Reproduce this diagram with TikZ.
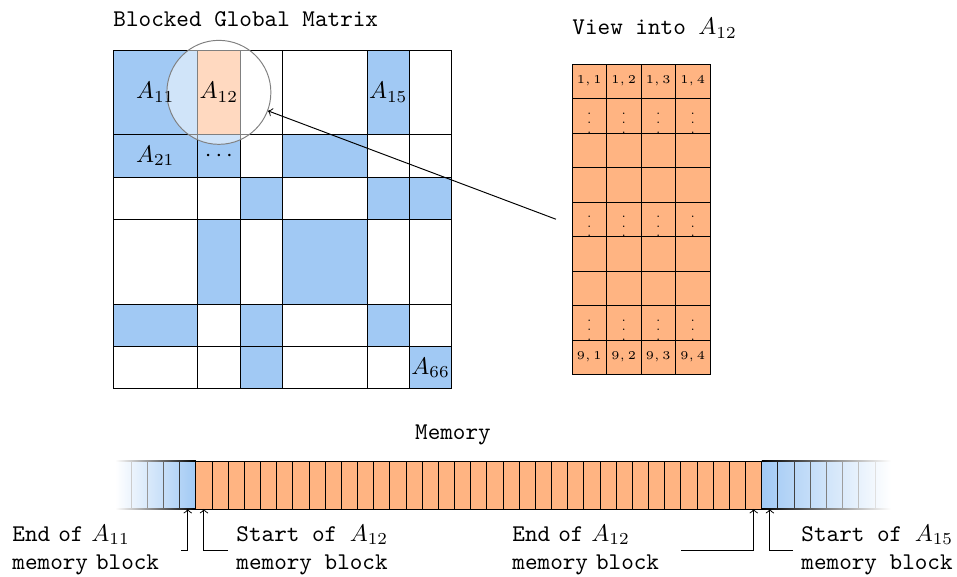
\documentclass[tikz,border=0pt]{standalone}
\usetikzlibrary{calc}
\newdimen\pxu
\pxu=0.41667pt
\definecolor{cb}{HTML}{A1C9F4}
\definecolor{co}{HTML}{FFB482}
\definecolor{cw}{HTML}{FFFFFF}
\tikzset{
  vcell/.style={draw=black, fill=co, minimum width=34.5\pxu, minimum height=34.5\pxu,
    inner sep=0pt, outer sep=0pt, font=\tiny},
  mcell/.style={minimum width=16.17\pxu, minimum height=48\pxu, inner sep=0pt, outer sep=0pt},
  heading/.style={font=\ttfamily, inner sep=0pt},
  memlabel/.style={font=\ttfamily, align=left, inner sep=3.333pt},
  endlabel/.style={memlabel, text width=66.7pt},
  pointer/.style={->, line width=0.4pt},
  lensstyle/.style={circle, draw=gray, fill=white, fill opacity=0.5, minimum size=104\pxu, inner sep=0pt},
}
% block boundaries of the global matrix (block sizes 2,1,1,2,1,1)
\def\XB{{113,197.7,240.05,282.4,367.1,409.45,451.8}}
\def\YB{{50,134.7,177.05,219.4,304.1,346.45,388.8}}
\newcommand\matrow[2]{%
  \foreach \col [count=\c] in {#2} {
    \pgfmathsetmacro\xa{\XB[\c-1]}
    \pgfmathsetmacro\xb{\XB[\c]}
    \pgfmathsetmacro\ya{\YB[#1-1]}
    \pgfmathsetmacro\yb{\YB[#1]}
    \filldraw[fill=\col, draw=black, line width=0.4pt] (\xa,\ya) rectangle (\xb,\yb);
    \coordinate (g-#1-\c) at ({(\xa+\xb)/2},{(\ya+\yb)/2});
  }}
\begin{document}
\begin{tikzpicture}[x=0.41667pt, y=-0.41667pt]
\useasboundingbox (0,0) rectangle (957,577);

% ---- blocked global matrix
\matrow{1}{cb,co,cw,cw,cb,cw}
\matrow{2}{cb,cb,cw,cb,cw,cw}
\matrow{3}{cw,cw,cb,cw,cb,cb}
\matrow{4}{cw,cb,cw,cb,cw,cw}
\matrow{5}{cb,cw,cb,cw,cb,cw}
\matrow{6}{cw,cw,cb,cw,cw,cb}

\node[lensstyle] (lens) at (g-1-2) {};

\node (a11) at (g-1-1) {$A_{11}$};
\node (a12) at (g-1-2) {$A_{12}$};
\node (a15) at (g-1-5) {$A_{15}$};
\node (a21) at (g-2-1) {$A_{21}$};
\node (a22) at (g-2-2) {$\cdots$};
\node (a66) at (g-6-6) {$A_{66}$};

\node[heading, anchor=base west] (title) at (113,27) {Blocked Global Matrix};

% ---- view into one block
\node[heading, anchor=base west] (vtitle) at (572,35) {View into $A_{12}$};
\foreach \r in {1,...,9}
  \foreach \c in {1,...,4}
    \node[vcell] (v-\r-\c) at ({572+34.5*(\c-0.5)},{64+34.5*(\r-0.5)}) {};
\foreach \c in {1,...,4} {
  \node[font=\tiny, inner sep=0pt] at (v-1-\c) {$1,\c$};
  \node[font=\tiny, inner sep=0pt] at (v-9-\c) {$9,\c$};
  \foreach \r in {2,5,8}
    \node[font=\tiny, inner sep=0pt] at (v-\r-\c) {$\vdots$};
}
\coordinate (vfrom) at ($(v-5-1.west)+(-16,0)$);
\draw[pointer] (vfrom) -- (lens);

% ---- linear memory
\node[heading, anchor=base] (memtitle) at (453,440) {Memory};
\shade[left color=white, right color=cb] (115,461) rectangle (195.85,509);
\shade[left color=cb, right color=white] (761.8,461) rectangle (891,509);
\foreach \i in {0,...,4,40,41,...,47}
  \node[mcell] (m\i) at ({115+16.17*(\i+0.5)},485) {};
\foreach \i in {5,...,39}
  \node[mcell, fill=co, draw=black] (m\i) at ({115+16.17*(\i+0.5)},485) {};
% fading cell borders at both ends
\foreach \i/\p in {1/20,2/40,3/60,4/80}
  \draw[black!\p] ({115+16.17*\i},461) -- ({115+16.17*\i},509);
\foreach \i/\p in {41/88,42/75,43/62,44/50,45/38,46/25,47/12}
  \draw[black!\p] ({115+16.17*\i},461) -- ({115+16.17*\i},509);
\shade[left color=white, right color=black] (115,460.5) rectangle (195.85,461.5);
\shade[left color=white, right color=black] (115,508.5) rectangle (195.85,509.5);
\shade[left color=black, right color=white] (761.8,460.5) rectangle (891,461.5);
\shade[left color=black, right color=white] (761.8,508.5) rectangle (891,509.5);

% ---- block boundary labels
\node[endlabel, anchor=west] (e11) at (4,550) {End of $A_{11}$\\memory block};
\node[memlabel, anchor=west] (s12) at (228,550) {Start of $A_{12}$\\memory block};
\node[endlabel, anchor=west] (e12) at (504,550) {End of $A_{12}$\\memory block};
\node[memlabel, anchor=west] (s15) at (793,550) {Start of $A_{15}$\\memory block};
\draw[pointer] (e11.east) -| (m4.south);
\draw[pointer] (s12.west) -| (m5.south);
\draw[pointer] (e12.east) -| (m39.south);
\draw[pointer] (s15.west) -| (m40.south);
\end{tikzpicture}
\end{document}
